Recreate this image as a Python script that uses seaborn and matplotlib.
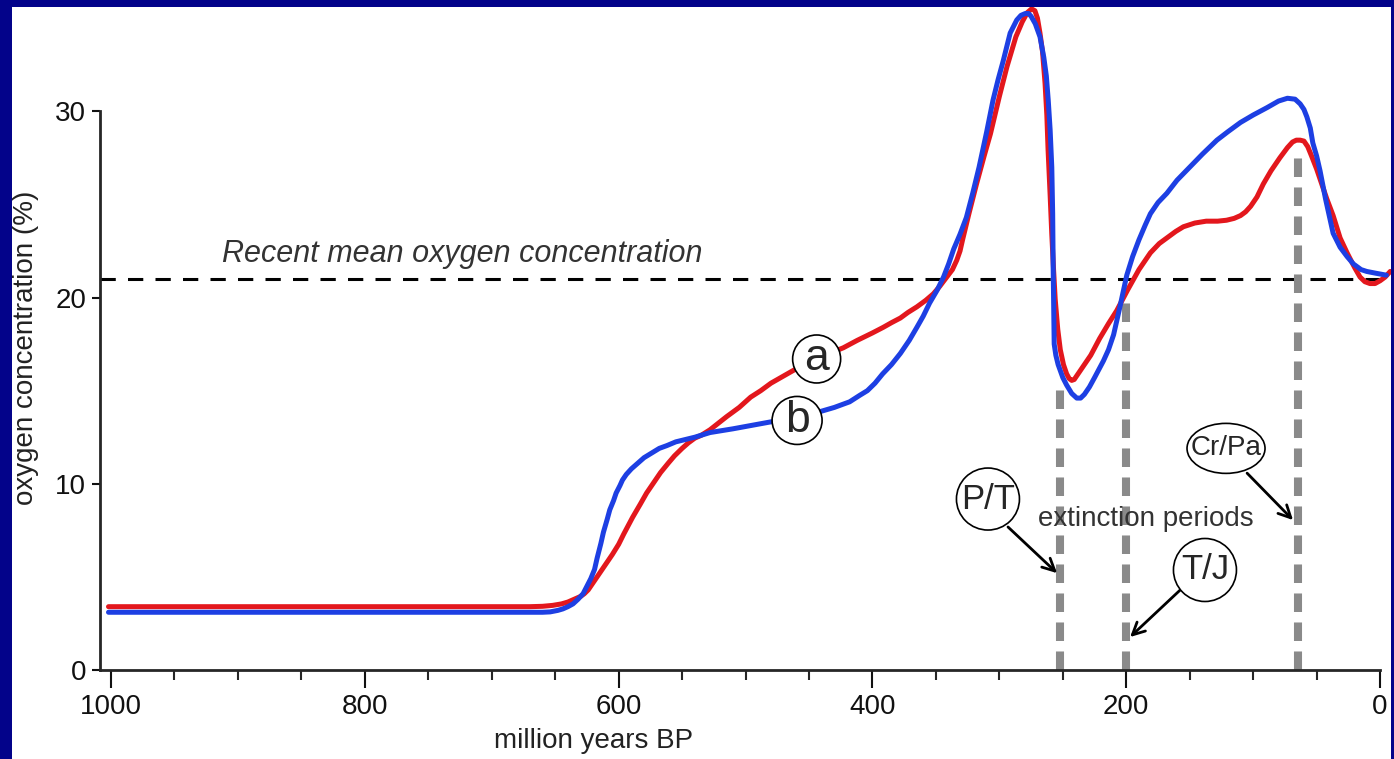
import numpy as np
import pandas as pd
import matplotlib
matplotlib.use('Agg')
import matplotlib.pyplot as plt
from matplotlib.patches import Ellipse, Rectangle
from matplotlib.ticker import MultipleLocator
import seaborn as sns

# curve a (red): age in million years BP, oxygen %
age_a = [1002, 900, 800, 700, 670, 660, 652, 645, 640, 635, 630, 627, 624, 620, 615,
         610, 605, 600, 596, 589, 583, 578, 572, 567, 561, 556, 550, 545, 540, 535,
         528, 515, 505, 496, 488, 480, 471, 462, 453, 444, 434, 423, 412, 400, 391.5,
         385, 378, 372, 365, 358, 352, 347, 341.5, 337, 333.6, 331, 329, 324, 318, 312,
         307, 300, 294, 287, 282, 278, 274.6, 272, 270, 268, 266, 264, 262.6, 261.6, 260,
         258.7, 257.3, 256, 254, 252, 249.5, 247, 245, 243, 241, 238, 234, 228, 221,
         214, 207.5, 199, 190, 181, 174, 168, 161, 155, 146, 137, 128, 121, 115, 110,
         106, 102, 97, 92, 86, 79, 73, 69, 66, 63, 60, 57, 54, 50, 47, 42, 37, 31.5,
         26, 20, 15.8, 12, 8, 4, 0, -4, -8]
o2_a = [3.4, 3.4, 3.4, 3.4, 3.4, 3.42, 3.47, 3.55, 3.65, 3.8, 3.95, 4.1, 4.3, 4.7, 5.2,
        5.7, 6.2, 6.75, 7.3, 8.2, 8.9, 9.5, 10.1, 10.6, 11.1, 11.5, 11.9, 12.2, 12.45, 12.6,
        12.9, 13.6, 14.1, 14.65, 15.0, 15.4, 15.75, 16.1, 16.4, 16.7, 17.0, 17.3, 17.7, 18.1, 18.4,
        18.65, 18.9, 19.2, 19.5, 19.85, 20.2, 20.6, 21.1, 21.5, 22.0, 22.5, 23.1, 24.5, 26.1, 27.6,
        28.8, 30.8, 32.4, 34.0, 34.8, 35.3, 35.5, 35.4, 35.0, 34.2, 33.2, 31.5, 29.8, 27.9, 25.5,
        23.4, 21.5, 19.9, 18.3, 17.2, 16.4, 15.9, 15.65, 15.55, 15.6, 15.9, 16.3, 16.9, 17.8,
        18.6, 19.3, 20.4, 21.5, 22.4, 22.9, 23.2, 23.55, 23.8, 24.0, 24.1, 24.1, 24.15, 24.25, 24.4,
        24.6, 24.9, 25.4, 26.1, 26.8, 27.5, 28.05, 28.35, 28.45, 28.45, 28.4, 28.1, 27.6, 26.9, 26.3, 25.3, 24.4, 23.2,
        22.4, 21.6, 21.1, 20.85, 20.75, 20.75, 20.9, 21.1, 21.4]

# curve b (blue)
age_b = [1002, 900, 800, 700, 660, 654, 648, 644, 640, 636, 632, 628, 625, 622, 619,
         617, 614, 612, 609, 607, 604, 602, 599, 597, 594, 590, 585, 580, 574, 568,
         562, 555, 540, 528, 510, 490, 470, 459, 445, 430, 418, 410, 404, 398, 392,
         385, 378, 371, 365, 360, 355, 349, 344, 340, 336, 331, 326, 321, 316, 310,
         305, 301, 297, 291.5, 286.3, 283, 279.6, 277, 275, 271.7, 268, 265, 263, 261.5,
         260, 258.7, 258, 257.6, 257.2, 256.8, 255.5, 253.7, 250, 247, 243, 239, 236,
         233, 229, 225, 218, 214, 210, 205, 199.6, 195, 190, 185, 181, 175, 168, 160,
         150, 140, 128.6, 120, 110, 100, 89, 80, 73, 67, 63, 60, 57.7, 55, 53, 50,
         47.3, 43, 39.4, 37, 31.5, 26, 21, 15, 10.5, 3, -5]
o2_b = [3.1, 3.1, 3.1, 3.1, 3.1, 3.12, 3.2, 3.28, 3.4, 3.55, 3.8, 4.1, 4.5, 4.9, 5.4,
        6.0, 6.8, 7.4, 8.1, 8.6, 9.1, 9.5, 9.9, 10.2, 10.5, 10.8, 11.1, 11.4, 11.65, 11.9,
        12.05, 12.25, 12.5, 12.75, 12.95, 13.2, 13.45, 13.6, 13.8, 14.1, 14.4, 14.75, 15.0, 15.4, 15.9,
        16.4, 17.0, 17.7, 18.4, 19.0, 19.7, 20.4, 21.1, 21.8, 22.6, 23.4, 24.3, 25.6, 27.0, 28.9,
        30.6, 31.7, 32.7, 34.2, 34.9, 35.15, 35.25, 35.25, 35.1, 34.7, 34.0, 32.9, 31.9, 30.6,
        29.0, 27.0, 24.5, 21.6, 19.5, 17.5, 16.9, 16.4, 15.7, 15.3, 14.85, 14.6, 14.6,
        14.8, 15.2, 15.7, 16.6, 17.2, 18.0, 19.5, 21.2, 22.2, 23.1, 23.9, 24.5, 25.1, 25.6, 26.3,
        27.0, 27.7, 28.45, 28.9, 29.4, 29.8, 30.2, 30.55, 30.7, 30.65, 30.4, 30.1, 29.7, 29.1, 28.3, 27.6,
        26.8, 25.3, 24.2, 23.45, 22.7, 22.2, 21.8, 21.5, 21.4, 21.3, 21.2]

recent_mean = 21
extinction_names = ['P/T', 'T/J', 'Cr/Pa']
extinction_ages = [252, 200, 65]
extinction_tops = [15.3, 20.1, 28.0]

x_ticks = [1000, 800, 600, 400, 200, 0]
y_ticks = [0, 10, 20, 30]

sns.set_style('ticks')
plt.rcParams['font.family'] = ['Liberation Sans', 'DejaVu Sans']

W, H = 1394, 759
fig = plt.figure(figsize=(W / 100, H / 100), dpi=100)
fig.patch.set_facecolor('#03038a')
fig.add_artist(Rectangle((12 / W, 0), (1391 - 12) / W, (H - 7) / H, transform=fig.transFigure,
                         facecolor='white', edgecolor='none', zorder=-5))
ax = fig.add_axes([100 / W, (H - 670) / H, 1291 / W, 663 / H])
ax.set_facecolor('none')

xmin, xmax = 1008.7, -8.6
ymin, ymax = 0, 35.6

df = pd.concat([
    pd.DataFrame({'age': age_a, 'o2': o2_a, 'curve': 'a'}),
    pd.DataFrame({'age': age_b, 'o2': o2_b, 'curve': 'b'}),
])
sns.lineplot(data=df, x='age', y='o2', hue='curve', palette={'a': '#e3171d', 'b': '#1d3fe3'},
             sort=False, estimator=None, lw=3.6, legend=False, ax=ax,
             solid_capstyle='round', solid_joinstyle='round')

ax.axhline(recent_mean, color='black', lw=2.2, dashes=(5, 4), zorder=1)
ax.vlines(extinction_ages, 0, extinction_tops, colors='#8a8a8a', lw=5.8,
          linestyles=(0, (2.3, 1.3)), zorder=1.5)

ax.set_xlim(xmin, xmax)
ax.set_ylim(ymin, ymax)
ax.set_xticks(x_ticks)
ax.xaxis.set_minor_locator(MultipleLocator(50))
ax.set_yticks(y_ticks)
sns.despine(ax=ax)
ax.spines['left'].set_bounds(0, 30)
ax.spines['bottom'].set_bounds(0, xmin)
for s in ['left', 'bottom']:
    ax.spines[s].set_linewidth(2)
ax.tick_params(axis='x', which='major', length=13, width=1.5, labelsize=20, pad=4, colors='#111111')
ax.tick_params(axis='x', which='minor', length=7, width=1.5)
ax.tick_params(axis='y', length=6, width=1.5, labelsize=20, pad=4, colors='#111111')

ax.set_xlabel('million years BP', fontsize=20, color='#222222')
ax.xaxis.set_label_coords(0.382, -0.087)
ax.set_ylabel('oxygen concentration (%)', fontsize=20, color='#222222')
ax.yaxis.set_label_coords(-0.047, 0.486)

ax.text(912.5, 21.9, 'Recent mean oxygen concentration', style='italic', fontsize=22,
        color='#333333', ha='left', va='baseline')
ax.text(185, 8.1, 'extinction periods', fontsize=20, color='#333333', ha='center', va='center')

# data units per pixel, for the circles round the labels
ux = (xmin - xmax) / 1291
uy = (ymax - ymin) / 663


def circled(x, y, s, w, h, size):
    ax.add_patch(Ellipse((x, y), w * ux, h * uy, facecolor='white', edgecolor='black',
                         lw=1.2, zorder=5))
    ax.text(x, y, s, ha='center', va='center', fontsize=size, zorder=6)


circled(444, 16.7, 'a', 48, 48, 32)
circled(459.4, 13.4, 'b', 50, 48, 32)

label_pos = [(309, 9.18), (138, 5.37), (121.4, 11.9)]
label_size = [(63, 62, 25), (63, 63, 25), (78, 50, 20)]
arrow_from = [(293.2, 7.68), (157.6, 4.29), (104.8, 10.57)]
arrow_to = [(254.5, 5.2), (197, 1.77), (68.6, 8.05)]
for name, pos, sz, a0, a1 in zip(extinction_names, label_pos, label_size, arrow_from, arrow_to):
    ax.annotate('', xy=a1, xytext=a0,
                arrowprops=dict(arrowstyle='->', color='black', lw=2, mutation_scale=22,
                                shrinkA=0, shrinkB=0), zorder=4)
    circled(pos[0], pos[1], name, sz[0], sz[1], sz[2])

fig.savefig('out.png', dpi=100)
